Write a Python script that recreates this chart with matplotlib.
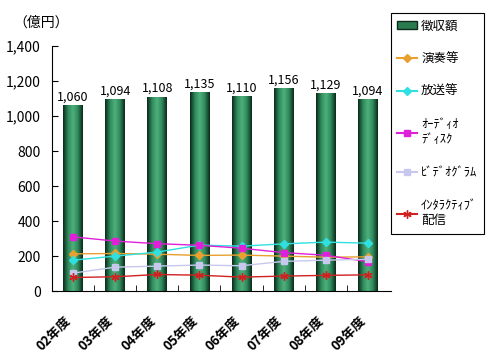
import numpy as np
import matplotlib
matplotlib.use('Agg')
import matplotlib.pyplot as plt
import matplotlib.transforms as mtransforms
from matplotlib.colors import LinearSegmentedColormap
from matplotlib.patches import Patch
from matplotlib.lines import Line2D

plt.rcParams['font.family'] = ['Noto Sans CJK JP', 'DejaVu Sans']

years = ['02年度', '03年度', '04年度', '05年度', '06年度', '07年度', '08年度', '09年度']
total = [1060, 1094, 1108, 1135, 1110, 1156, 1129, 1094]
total_labels = ['1,060', '1,094', '1,108', '1,135', '1,110', '1,156', '1,129', '1,094']
ensou = [213, 215, 211, 204, 206, 200, 194, 196]
housou = [177, 200, 223, 263, 257, 270, 280, 274]
audio = [310, 286, 271, 262, 245, 220, 205, 168]
video = [103, 137, 143, 149, 145, 170, 177, 182]
inter = [78, 82, 95, 91, 80, 86, 90, 93]

fig = plt.figure(figsize=(4.95, 3.63), dpi=100)
ax = fig.add_axes([0.105, 0.198, 0.685, 0.675])

x = np.arange(len(years))
bars = ax.bar(x, total, width=0.47, color='none', edgecolor='none', zorder=1)

# gradient fill for the bars (dark edges, light green middle)
cmap = LinearSegmentedColormap.from_list('g', ['#0b2a1a', '#2f8a5c', '#4fb07c', '#2f8a5c', '#0b2a1a'])
grad = np.linspace(0, 1, 64).reshape(1, -1)
for b in bars:
    bx, by = b.get_x(), b.get_y()
    ax.imshow(grad, extent=(bx, bx + b.get_width(), by, by + b.get_height()),
              aspect='auto', cmap=cmap, zorder=1)

for xi, v, s in zip(x, total, total_labels):
    ax.text(xi, v + 12, s, ha='center', va='bottom', fontsize=9)

ax.plot(x, ensou, color='#e8a030', marker='D', markersize=4, lw=1.0, zorder=3)
ax.plot(x, housou, color='#30e0e0', marker='D', markersize=4, lw=1.0, zorder=3)
ax.plot(x, audio, color='#e020d8', marker='s', markersize=5, lw=1.0, zorder=3)
ax.plot(x, video, color='#c8c8ee', marker='s', markersize=5, lw=1.0, zorder=3)
ax.plot(x, inter, color='#d02020', marker=(6, 2, 0), markersize=6, lw=1.0, zorder=3)

ax.set_xlim(-0.5, 7.55)
ax.set_ylim(0, 1400)
ax.set_yticks(range(0, 1401, 200))
ax.set_yticklabels(['{:,}'.format(v) for v in range(0, 1401, 200)], fontsize=10)
ax.set_xticks(x)
ax.set_xticklabels(years, rotation=45, ha='right', rotation_mode='anchor', fontsize=9.5, fontweight='bold')
ax.set_xticks(np.arange(0.5, 7.5, 1), minor=True)
ax.tick_params(axis='x', which='major', length=0, pad=16)
ax.tick_params(axis='x', which='minor', direction='in', length=4)
ax.tick_params(axis='y', direction='in', length=4, pad=8)
ax.spines['top'].set_visible(False)
ax.spines['right'].set_visible(False)

shift = mtransforms.ScaledTranslation(-0.09, 0, fig.dpi_scale_trans)
for lab in ax.get_xticklabels():
    lab.set_transform(lab.get_transform() + shift)

fig.text(0.028, 0.938, '（億円）', fontsize=10, ha='left', va='center')

handles = [
    Patch(facecolor='#2a7a50', edgecolor='#0b2a1a'),
    Line2D([], [], color='#e8a030', marker='D', markersize=4),
    Line2D([], [], color='#30e0e0', marker='D', markersize=4),
    Line2D([], [], color='#e020d8', marker='s', markersize=5),
    Line2D([], [], color='#c8c8ee', marker='s', markersize=5),
    Line2D([], [], color='#d02020', marker=(6, 2, 0), markersize=6),
]
labels = ['徴収額', '演奏等', '放送等', 'ｵｰﾃﾞｨｵ\nﾃﾞｨｽｸ', 'ﾋﾞﾃﾞｵｸﾞﾗﾑ', 'ｲﾝﾀﾗｸﾃｨﾌﾞ\n配信']
leg = fig.legend(handles, labels, loc='upper left', bbox_to_anchor=(0.79, 0.964),
                 fontsize=9, labelspacing=1.6, handlelength=1.6, handletextpad=0.3,
                 borderpad=0.5, borderaxespad=0, fancybox=False, framealpha=1, edgecolor='black')
leg.get_frame().set_linewidth(0.8)

fig.savefig('out.png', dpi=100)
